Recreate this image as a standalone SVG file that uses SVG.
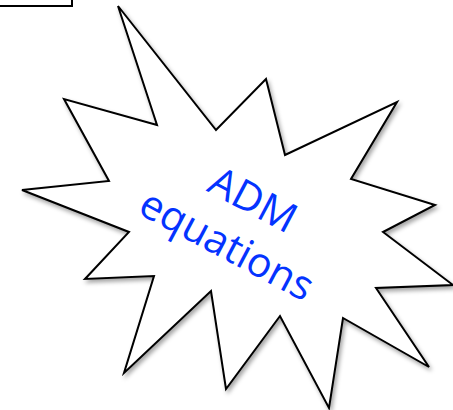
<svg xmlns="http://www.w3.org/2000/svg" width="453" height="410" viewBox="0 0 453 410">
  <style>
    .shape { fill: #ffffff; stroke: #000000; stroke-width: 2; stroke-linejoin: miter; }
    .label { font-family: "Open Sans", "Liberation Sans", sans-serif; font-size: 41px; fill: #0433ff; text-anchor: middle; }
  </style>
  <defs>
    <filter id="shadow" x="-10%" y="-10%" width="130%" height="130%">
      <feDropShadow dx="2" dy="3" stdDeviation="2" flood-color="#000000" flood-opacity="0.35"/>
    </filter>
  </defs>
  <rect width="453" height="410" fill="#ffffff"/>
  <g id="box">
    <rect class="shape" x="-2" y="-2" width="74" height="8"/>
  </g>
  <g id="starburst">
    <polygon class="shape" filter="url(#shadow)" points="118,6 216,130 266,79 285,155 397,102 351,179 435,205 383,232 453,285 376,288 429,367 343,318 329,408 280,316 226,389 211,291 124,373 154,276 85,279 129,232 22,190 109,181 64,99 157,125"/>
    <g transform="translate(239,222) rotate(28)">
      <text class="label" x="2" y="-12">ADM</text>
      <text class="label" x="0" y="40">equations</text>
    </g>
  </g>
  <g id="connectors"/>
</svg>
